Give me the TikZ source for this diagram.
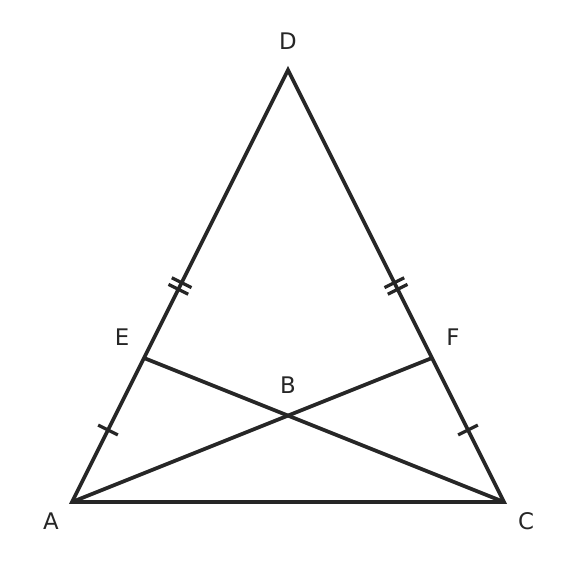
\documentclass[tikz,border=0pt]{standalone}
\usepackage{fontspec}
\setmainfont{DejaVu Sans}
\usepackage{tikz}
\usetikzlibrary{calc}
\usetikzlibrary{positioning}
\definecolor{ink}{RGB}{38,38,38}

\tikzset{
  side/.style={draw=ink, line width=3.2pt},
  tick/.style={draw=ink, line width=2.8pt},
  lbl/.style={text=ink, font=\fontsize{19.5}{22}\selectfont, inner sep=0pt}
}

\begin{document}
\begin{tikzpicture}[x=0.03cm,y=-0.03cm]
\useasboundingbox (0,0) rectangle (576,575);
\coordinate (A) at (72,502);
\coordinate (C) at (504,502);
\coordinate (D) at (288,70);
\coordinate (E) at ($(A)!1/3!(D)$);
\coordinate (F) at ($(C)!1/3!(D)$);
\coordinate (B) at (intersection of A--F and C--E);
\draw[side, line join=miter] (A)--(D)--(C)--cycle;
\draw[side] (A)--(F);
\draw[side] (C)--(E);
% single ticks
\coordinate (m1) at ($(A)!0.5!(E)$);
\coordinate (m2) at ($(C)!0.5!(F)$);
\draw[tick] ($(m1)!0.33cm!90:(E)$) -- ($(m1)!0.33cm!-90:(E)$);
\draw[tick] ($(m2)!0.33cm!90:(F)$) -- ($(m2)!0.33cm!-90:(F)$);
% double ticks
\coordinate (m3) at ($(E)!0.25!(D)$);
\coordinate (m4) at ($(F)!0.25!(D)$);
\foreach \m/\p in {m3/D, m4/D} {
  \coordinate (u) at ($(\m)!0.11cm!(\p)$);
  \coordinate (v) at ($(\m)!-0.11cm!(\p)$);
  \draw[tick] ($(u)!0.33cm!90:(\p)$) -- ($(u)!0.33cm!-90:(\p)$);
  \draw[tick] ($(v)!0.33cm!90:(\p)$) -- ($(v)!0.33cm!-90:(\p)$);
}
\node[lbl] (la) at (51,521) {A};
\node[lbl] (lb) at (288,385) {B};
\node[lbl] (lc) at (526,521) {C};
\node[lbl] (ld) at (288,41) {D};
\node[lbl] (le) at (122,337) {E};
\node[lbl] (lf) at (453,337) {F};
\end{tikzpicture}
\end{document}
